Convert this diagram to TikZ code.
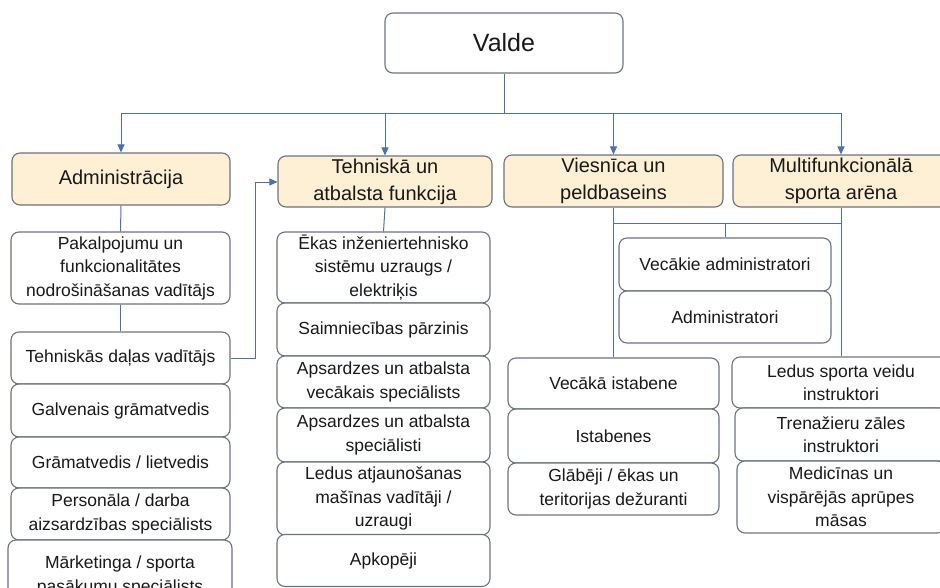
\documentclass[tikz,border=0pt]{standalone}
\usepackage{fontspec}
\setmainfont{Liberation Sans}
\usetikzlibrary{arrows.meta}

\definecolor{linkblue}{HTML}{4A6FB5}
\definecolor{boxgray}{HTML}{6B7280}
\definecolor{headfill}{HTML}{FDF0D5}

\tikzset{
  box/.style={draw=boxgray, line width=1.1pt, rounded corners=8pt, fill=white,
    align=center, inner sep=0pt, text=black!90, font=\fontsize{17.5}{23.5}\selectfont},
  head/.style={box, fill=headfill, font=\fontsize{20}{27}\selectfont},
  link/.style={draw=linkblue, line width=1pt},
}

\begin{document}
\begin{tikzpicture}[x=1pt, y=-1pt, >={Triangle[width=7pt,length=8pt]}]
\clip (0,0) rectangle (940,587);
\fill[white] (0,0) rectangle (940,587);

%top
\node[box, minimum width=238, minimum height=60, font=\fontsize{25}{30}\selectfont] (valde) at (504,43) {Valde};
\coordinate (bus) at (504,113);
\coordinate (jog) at (255,182);
\coordinate (hub) at (725,223);

%departments
\node[head, minimum width=218, minimum height=52] (admin) at (121,179)   {Administrācija};
\node[head, minimum width=214, minimum height=51] (tech)  at (385,181.5) {Tehniskā un\\atbalsta funkcija};
\node[head, minimum width=219, minimum height=52] (viesn) at (613.5,181) {Viesnīca un\\peldbaseins};
\node[head, minimum width=216, minimum height=52] (multi) at (841,181)   {Multifunkcionālā\\sporta arēna};

%administration column
\node[box, minimum width=219, minimum height=72] (pakalp) at (120.5,268)   {Pakalpojumu un\\funkcionalitātes\\nodrošināšanas vadītājs};
\node[box, minimum width=219, minimum height=52] (tehdal) at (120.5,358)   {Tehniskās daļas vadītājs};
\node[box, minimum width=219, minimum height=53] (galv)   at (120.5,410.5) {Galvenais grāmatvedis};
\node[box, minimum width=219, minimum height=51] (gramat) at (120.5,462.5) {Grāmatvedis / lietvedis};
\node[box, minimum width=219, minimum height=52] (person) at (120.5,514)   {Personāla / darba\\aizsardzības speciālists};
\node[box, minimum width=224, minimum height=72] (market) at (120,576)     {Mārketinga / sporta\\pasākumu speciālists};

%technical column
\node[box, minimum width=213, minimum height=71] (ekas)   at (383.5,267.5) {Ēkas inženiertehnisko\\sistēmu uzraugs /\\elektriķis};
\node[box, minimum width=213, minimum height=53] (saimn)  at (383.5,329.5) {Saimniecības pārzinis};
\node[box, minimum width=213, minimum height=52] (apsvec) at (383.5,382)   {Apsardzes un atbalsta\\vecākais speciālists};
\node[box, minimum width=213, minimum height=54] (apssp)  at (383.5,435)   {Apsardzes un atbalsta\\speciālisti};
\node[box, minimum width=213, minimum height=73] (ledat)  at (383.5,498.5) {Ledus atjaunošanas\\mašīnas vadītāji /\\uzraugi};
\node[box, minimum width=213, minimum height=52] (apkop)  at (383.5,560.5) {Apkopēji};

%shared admins
\node[box, minimum width=212, minimum height=53] (vecadm) at (725,264.5) {Vecākie administratori};
\node[box, minimum width=212, minimum height=52] (adm)    at (725,317)   {Administratori};

%hotel column
\node[box, minimum width=211, minimum height=51] (vecist) at (613.5,383.5) {Vecākā istabene};
\node[box, minimum width=211, minimum height=54] (istab)  at (613.5,436)   {Istabenes};
\node[box, minimum width=211, minimum height=52] (glab)   at (613.5,489)   {Glābēji / ēkas un\\teritorijas dežuranti};

%arena column
\node[box, minimum width=218, minimum height=51] (ledsp)  at (841,382.5) {Ledus sporta veidu\\instruktori};
\node[box, minimum width=212, minimum height=53] (trenaz) at (841,434.5) {Trenažieru zāles\\instruktori};
\node[box, minimum width=208, minimum height=72] (medic)  at (841,497)   {Medicīnas un\\vispārējās aprūpes\\māsas};

%board to departments
\draw[link] (valde.south) -- (bus);
\draw[link, ->] (bus) -| (admin.north);	%Valde--Administracija
\draw[link, ->] (bus) -| (tech.north);	%Valde--Tehniska
\draw[link, ->] (bus) -| (viesn.north);	%Valde--Viesnica
\draw[link, ->] (bus) -| (multi.north);	%Valde--Multi

%department lines
\draw[link] (admin.south) -- (pakalp.north);
\draw[link] (pakalp.south) -- (tehdal.north);
\draw[link, ->] (tehdal.east) -| (jog) -- (tech.west |- jog);	%Tehniskas dalas--Tehniska
\draw[link] (tech.south) -- (ekas.north);
\draw[link] (viesn.south) -- (vecist.north);
\draw[link] (multi.south) -- (ledsp.north);

%shared admins
\draw[link] (viesn.south |- hub) -- (multi.south |- hub);
\draw[link] (hub) -- (vecadm.north);

\end{tikzpicture}
\end{document}
